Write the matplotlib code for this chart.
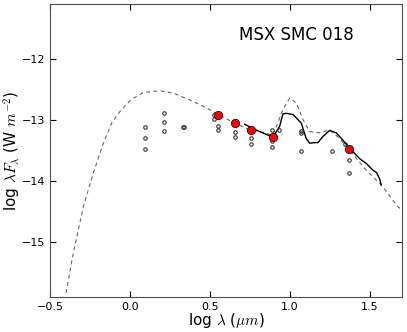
import numpy as np
import matplotlib
matplotlib.use('Agg')
from matplotlib import pyplot as plt

plt.rcParams['mathtext.fontset'] = 'cm'

# model SED (dashed)
model_x = [-0.40, -0.355, -0.292, -0.23, -0.167, -0.115, -0.063, 0.0, 0.082, 0.186, 0.27, 0.373,
           0.477, 0.55, 0.654, 0.748, 0.81, 0.893, 0.955, 0.997, 1.039, 1.08, 1.122, 1.184, 1.247,
           1.309, 1.371, 1.475, 1.579, 1.673, 1.70]
model_y = [-15.83, -15.18, -14.42, -13.87, -13.38, -13.05, -12.86, -12.68, -12.55, -12.52, -12.56, -12.67,
           -12.80, -12.91, -13.05, -13.16, -13.19, -13.25, -12.83, -12.64, -12.72, -12.99, -13.19, -13.21,
           -13.16, -13.30, -13.49, -13.82, -14.09, -14.42, -14.47]

# IRS spectrum (solid)
spec_x = [0.716, 0.81, 0.893, 0.935, 0.955, 0.975, 1.018, 1.07, 1.10, 1.122, 1.15, 1.174, 1.205, 1.247,
          1.288, 1.33, 1.371, 1.434, 1.48, 1.517, 1.54, 1.559, 1.569]
spec_y = [-13.07, -13.19, -13.28, -13.10, -12.90, -12.89, -12.91, -13.05, -13.30, -13.38, -13.37, -13.37,
          -13.27, -13.17, -13.21, -13.33, -13.46, -13.63, -13.72, -13.82, -13.86, -13.96, -14.06]

# photometry (small open circles)
phot_x = [0.093, 0.093, 0.093, 0.211, 0.211, 0.211, 0.332, 0.335, 0.525, 0.525, 0.55, 0.55,
          0.66, 0.655, 0.655, 0.755, 0.755, 0.89, 0.89, 0.89, 0.93, 1.066, 1.066, 1.066,
          1.261, 1.34, 1.37, 1.37]
phot_y = [-13.11, -13.29, -13.47, -12.89, -13.03, -13.18, -13.11, -13.12, -12.91, -12.99, -13.09, -13.16,
          -13.01, -13.19, -13.28, -13.30, -13.40, -13.17, -13.35, -13.44, -13.17, -13.18, -13.22, -13.51,
          -13.51, -13.39, -13.66, -13.87]

# fitted points (red)
fit_x = [0.55, 0.654, 0.758, 0.893, 1.37]
fit_y = [-12.92, -13.05, -13.16, -13.27, -13.48]

fig = plt.figure(figsize=(4.07, 3.32), dpi=100)
ax = fig.add_axes([0.123, 0.105, 0.865, 0.883])

ax.plot(model_x, model_y, '--', color='0.4', lw=0.8, dashes=(3.5, 3))
ax.plot(spec_x, spec_y, '-', color='k', lw=1.0)
ax.plot(phot_x, phot_y, 'o', mfc='none', mec='0.2', ms=2.5, mew=0.8)
ax.plot(fit_x, fit_y, 'o', color='red', mec='k', ms=6, mew=0.5)

ax.text(0.68, -11.6, 'MSX SMC 018', fontsize=12, va='center')

ax.set_xlim(-0.5, 1.7)
ax.set_ylim(-15.9, -11.1)
ax.set_xticks([-0.5, 0.0, 0.5, 1.0, 1.5])
ax.set_yticks([-15, -14, -13, -12])
ax.tick_params(direction='in', top=True, right=True, labelsize=8, length=4, pad=3.5)
for s in ax.spines.values():
    s.set_color('0.3')

ax.set_xlabel(r'log $\lambda$ ($\mu m$)', fontsize=11, labelpad=-1)
ax.set_ylabel(r'log $\lambda F_\lambda$ (W $m^{-2}$)', fontsize=11, labelpad=0)

plt.savefig('out.png', dpi=100)
